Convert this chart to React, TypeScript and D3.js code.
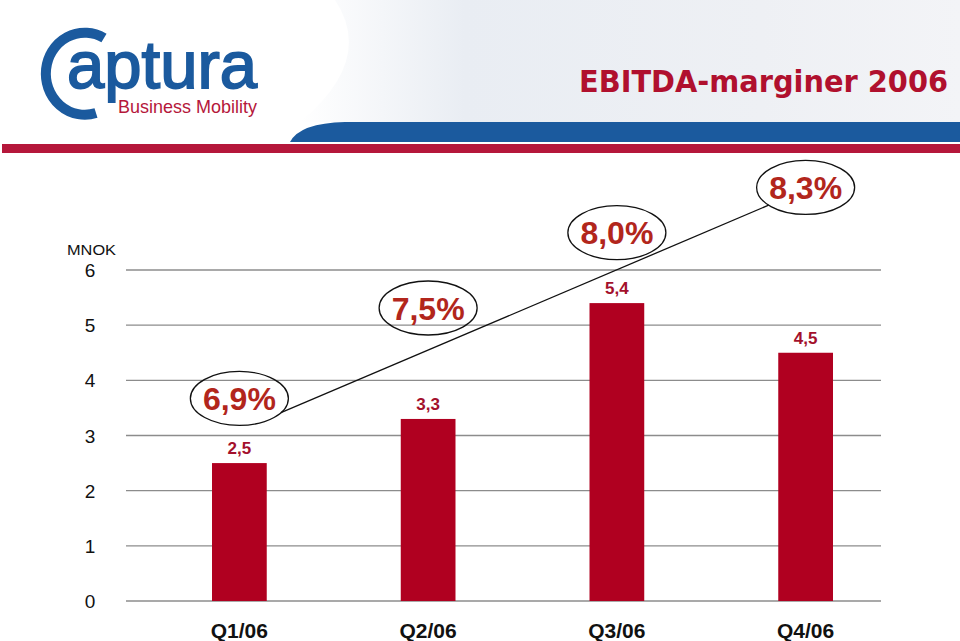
import React from "react";
import * as d3 from "d3";

const categories = ["Q1/06", "Q2/06", "Q3/06", "Q4/06"];
const ebitda = [2.5, 3.3, 5.4, 4.5];
const ebitdaLabels = ["2,5", "3,3", "5,4", "4,5"];
const margins = [6.9, 7.5, 8.0, 8.3];
const marginLabels = ["6,9%", "7,5%", "8,0%", "8,3%"];
const yTicks = [0, 1, 2, 3, 4, 5, 6];

const W = 960;
const H = 641;
const BAR = "#b00020";
const VAL = "#a3102c";
const PCT = "#b2261c";
const BLUE = "#1b5a9e";
const RED = "#b5173b";

export default function App() {
  const x = d3
    .scaleBand<string>()
    .domain(categories)
    .range([145, 900])
    .paddingInner(0.71)
    .paddingOuter(0.355);
  const y = d3.scaleLinear().domain([0, 6]).range([601, 270]);
  const yM = d3.scaleLinear().domain([6, 9]).range([534, 82]);
  const gridX0 = 126;
  const gridX1 = 881;
  const rx = 49;
  const ry = 27;

  const cx = (c: string) => (x(c) ?? 0) + x.bandwidth() / 2;
  const pt = (i: number, deg: number) => {
    const a = (deg * Math.PI) / 180;
    return [cx(categories[i]) + rx * Math.cos(a), yM(margins[i]) + ry * Math.sin(a)];
  };
  const p0 = pt(0, 32);
  const p1 = pt(3, 139);

  return (
    <svg
      width={W}
      height={H}
      style={{ position: "absolute", left: 0, top: 0, background: "#fff" }}
      fontFamily="Arial, 'Liberation Sans', sans-serif"
    >
      <defs>
        <linearGradient id="hdr" x1="0" x2="1" y1="0" y2="0">
          <stop offset="0" stopColor="#ffffff" />
          <stop offset="0.25" stopColor="#e9edf3" />
          <stop offset="0.7" stopColor="#eef0f4" />
          <stop offset="1" stopColor="#f3f4f7" />
        </linearGradient>
      </defs>
      {/* header background */}
      <path d="M 335 0 Q 375 60 300 122 L 960 122 L 960 0 Z" fill="url(#hdr)" />
      <path d="M 290 142 Q 300 123 345 122 L 960 122 L 960 142 Z" fill={BLUE} />
      <rect x={2} y={144} width={958} height={9} fill={RED} />

      {/* logo */}
      <path
        d="M 104 38 A 39 41 0 1 0 96 113"
        fill="none"
        stroke={BLUE}
        strokeWidth={10}
      />
      <text
        x={67}
        y={88}
        fontSize={66}
        fill={BLUE}
        stroke={BLUE}
        strokeWidth={1.8}
        textLength={190}
        lengthAdjust="spacingAndGlyphs"
      >
        aptura
      </text>
      <text x={118} y={113} fontSize={19} fill={RED} textLength={139} lengthAdjust="spacingAndGlyphs">
        Business Mobility
      </text>

      {/* title */}
      <text
        x={948}
        y={92}
        textAnchor="end"
        fontSize={31}
        fontWeight="bold"
        fill="#b0102e"
        fontFamily="'DejaVu Sans', sans-serif"
        textLength={369}
        lengthAdjust="spacingAndGlyphs"
      >
        EBITDA-marginer 2006
      </text>

      {/* grid and y axis */}
      {yTicks.map((t) => (
        <g key={t}>
          <line x1={gridX0} x2={gridX1} y1={y(t)} y2={y(t)} stroke="#8c8c8c" strokeWidth={1.3} />
          <text x={90} y={y(t) + 7} textAnchor="middle" fontSize={19} fill="#111">
            {t}
          </text>
        </g>
      ))}
      <text x={67} y={255} fontSize={15} fill="#111" textLength={49} lengthAdjust="spacingAndGlyphs">
        MNOK
      </text>

      {/* bars */}
      {categories.map((c, i) => (
        <g key={c}>
          <rect x={x(c)} y={y(ebitda[i])} width={x.bandwidth()} height={y(0) - y(ebitda[i])} fill={BAR} />
          <text x={cx(c)} y={y(ebitda[i]) - 9} textAnchor="middle" fontSize={17} fontWeight="bold" fill={VAL}>
            {ebitdaLabels[i]}
          </text>
          <text x={cx(c)} y={638} textAnchor="middle" fontSize={21} fontWeight="bold" fill="#111">
            {c}
          </text>
        </g>
      ))}

      {/* margin line and ellipses */}
      <line x1={p0[0]} y1={p0[1]} x2={p1[0]} y2={p1[1]} stroke="#111" strokeWidth={1.3} />
      {categories.map((c, i) => (
        <g key={"m" + c}>
          <ellipse cx={cx(c)} cy={yM(margins[i])} rx={rx} ry={ry} fill="none" stroke="#111" strokeWidth={1.3} />
          <text x={cx(c)} y={yM(margins[i]) + 11.5} textAnchor="middle" fontSize={32} fontWeight="bold" fill={PCT}>
            {marginLabels[i]}
          </text>
        </g>
      ))}
    </svg>
  );
}
